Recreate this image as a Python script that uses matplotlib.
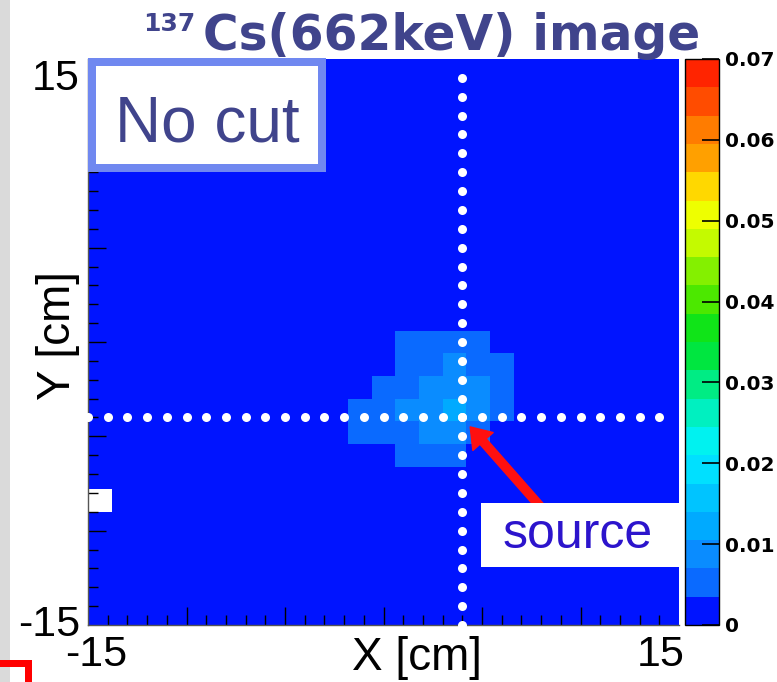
import numpy as np
import matplotlib
matplotlib.use("Agg")
import matplotlib.pyplot as plt
from matplotlib.colors import ListedColormap, BoundaryNorm
from matplotlib.patches import Rectangle, FancyArrowPatch
from matplotlib.lines import Line2D

W_PX, H_PX, DPI = 777, 682, 100

# ---- histogram definition (cm) ----
x_range = (-15.0, 15.0)
y_range = (-15.0, 15.0)
n_bins = 25

bg = 0.002            # level of the flat background
A, B, C = 0.005, 0.009, 0.012
empty_bin = (0, 5)    # (column, row) from lower-left; bin left undrawn
spot_col0, spot_row0 = 11, 7
spot_values = [       # rows listed bottom to top, columns 11..17
    [bg, bg, A,  A,  A,  bg, bg],
    [A,  A,  A,  B,  B,  A,  bg],
    [A,  A,  B,  B,  C,  B,  A ],
    [bg, A,  A,  B,  B,  B,  A ],
    [bg, bg, A,  A,  B,  A,  A ],
    [bg, bg, A,  A,  A,  A,  bg],
]

source_xy = (4.0, -4.0)

# colour scale
z_min, z_max, n_levels = 0.0, 0.07, 20
cbar_ticks = [0, 0.01, 0.02, 0.03, 0.04, 0.05, 0.06, 0.07]
cbar_labels = ['0', '0.01', '0.02', '0.03', '0.04', '0.05', '0.06', '0.07']
level_colors = ['#0014ff', '#0a6aff', '#0a8cff', '#00aaff', '#00c4ff',
                '#00e0ff', '#00f2f0', '#00f0c0', '#00ec84', '#00e640',
                '#10e418', '#4ce800', '#84f000', '#c4fa00', '#eeff00',
                '#ffd800', '#ffa000', '#ff7c00', '#ff4c00', '#ff2400']

# axis text
x_tick_values, x_tick_labels = [-15, 15], ['-15', '15']
y_tick_values, y_tick_labels = [-15, 15], ['-15', '15']
x_title, y_title = 'X [cm]', 'Y [cm]'
title_sup, title_main = '137', 'Cs(662keV) image'
box_label, source_label = 'No cut', 'source'

TITLE_COLOR = '#40448c'
LABEL_FONT = ['Liberation Sans', 'DejaVu Sans']


def fx(px):
    return px / W_PX


def fy(py):
    return 1 - py / H_PX


fig = plt.figure(figsize=(W_PX / DPI, H_PX / DPI), dpi=DPI)
fig.patch.set_facecolor('white')

# grey margin strip on the left edge
fig.patches.append(Rectangle((0, 0), fx(10), 1, transform=fig.transFigure,
                             facecolor='#dadada', edgecolor='none', zorder=0))

ax = fig.add_axes([fx(88), fy(625), fx(591), 566 / H_PX])
cax = fig.add_axes([fx(685), fy(625), fx(34), 566 / H_PX])

# build the bin-content grid
z = np.full((n_bins, n_bins), bg)
for i, row in enumerate(spot_values):
    for j, v in enumerate(row):
        z[spot_row0 + i, spot_col0 + j] = v
z[empty_bin[1], empty_bin[0]] = np.nan
zm = np.ma.masked_invalid(z)

xe = np.linspace(*x_range, n_bins + 1)
ye = np.linspace(*y_range, n_bins + 1)
cmap = ListedColormap(level_colors)
cmap.set_bad('white')
bounds = np.linspace(z_min, z_max, n_levels + 1)
norm = BoundaryNorm(bounds, cmap.N)
mesh = ax.pcolormesh(xe, ye, zm, cmap=cmap, norm=norm, shading='flat')
ax.set_xlim(*x_range)
ax.set_ylim(*y_range)
ax.set_facecolor('white')

# tick marks: major every 5 cm, minor every 1 cm, pointing inwards
ax.set_xticks(np.arange(-10, 11, 5))
ax.set_xticks(np.arange(-14, 15, 1), minor=True)
ax.set_yticks(np.arange(-10, 11, 5))
ax.set_yticks(np.arange(-14, 15, 1), minor=True)
ax.tick_params(which='both', direction='in', top=False, right=False,
               labelbottom=False, labelleft=False, color='black', width=1)
ax.tick_params(which='major', length=18 * 0.72)
ax.tick_params(which='minor', length=10 * 0.72)
for s in ['top', 'right']:
    ax.spines[s].set_visible(False)
for s in ['left', 'bottom']:
    ax.spines[s].set_color('#555555')
    ax.spines[s].set_linewidth(1.0)

# tick labels drawn at the axis ends
xl_offsets = [8, -18]
for v, lab, off in zip(x_tick_values, x_tick_labels, xl_offsets):
    ax.annotate(lab, xy=(v, 0), xycoords=('data', 'axes fraction'),
                xytext=(off * 0.72, -10 * 0.72), textcoords='offset points',
                ha='center', va='top', fontsize=31, family=LABEL_FONT,
                annotation_clip=False)
yl_offsets = [0, -20]
for v, lab, off in zip(y_tick_values, y_tick_labels, yl_offsets):
    ax.annotate(lab, xy=(0, v), xycoords=('axes fraction', 'data'),
                xytext=(-8 * 0.72, off * 0.72), textcoords='offset points',
                ha='right', va='center', fontsize=31, family=LABEL_FONT,
                annotation_clip=False)

ax.set_xlabel(x_title, fontsize=33, family=LABEL_FONT)
ax.xaxis.set_label_coords((416.5 - 88) / 591, (625 - 636) / 566)
ax.xaxis.label.set_va('top')
ax.set_ylabel(y_title, fontsize=33, family=LABEL_FONT)
ax.yaxis.set_label_coords((57.5 - 88) / 591, (625 - 335.5) / 566)
ax.yaxis.label.set_va('center')

# dotted cross-hair through the source position
sx, sy = source_xy
dots = np.arange(x_range[0], x_range[1], 1.0)
ax.plot(dots, np.full_like(dots, sy), 'o', color='white', ms=6.5,
        mec='none', clip_on=False, zorder=4)
ax.plot(np.full_like(dots, sx), dots, 'o', color='white', ms=6.5,
        mec='none', clip_on=False, zorder=4)

# arrow pointing at the source
arrow = FancyArrowPatch((8.45, -9.3), (sx + 0.4, sy - 0.5),
                        arrowstyle='simple,head_width=1.95,head_length=1.4,tail_width=0.6',
                        mutation_scale=10, color='#ff1010', shrinkA=0, shrinkB=0,
                        zorder=6)
ax.add_patch(arrow)

# "source" label box
fig.patches.append(Rectangle((fx(481), fy(567)), fx(199), 64 / H_PX,
                             transform=fig.transFigure, facecolor='white',
                             edgecolor='none', zorder=5))
fig.text(fx(577.5), fy(548), source_label, ha='center', va='baseline',
         fontsize=36, color='#2c14cc', family=LABEL_FONT, zorder=7)

# "No cut" box in the upper-left corner
fig.patches.append(Rectangle((fx(92), fy(168)), fx(230), 106 / H_PX,
                             transform=fig.transFigure, facecolor='white',
                             edgecolor='#7088f0', linewidth=8 * 0.72, zorder=5))
fig.text(fx(207), fy(141.5), box_label, ha='center', va='baseline',
         fontsize=46, color=TITLE_COLOR, family=LABEL_FONT, zorder=7)

# title
fig.text(fx(143), fy(31), title_sup, ha='left', va='baseline',
         fontsize=18, fontweight='bold', color=TITLE_COLOR)
fig.text(fx(203), fy(50), title_main, ha='left', va='baseline',
         fontsize=35, fontweight='bold', color=TITLE_COLOR)

# colour bar
cb = fig.colorbar(mesh, cax=cax, ticks=cbar_ticks)
cb.outline.set_edgecolor('black')
cb.outline.set_linewidth(1.0)
cax.yaxis.set_ticks_position('right')
cax.tick_params(direction='in', length=12, width=1.2, color='black', pad=4)
cax.set_yticklabels(cbar_labels, fontsize=14.5, fontweight='bold')
cax.yaxis.set_minor_locator(matplotlib.ticker.NullLocator())

# red corner mark at the lower-left edge
fig.lines.append(Line2D([0, fx(27.8), fx(27.8)], [fy(663.3), fy(663.3), fy(690)],
                        transform=fig.transFigure, color='red',
                        linewidth=7 * 0.72, solid_joinstyle='miter', zorder=8))

fig.savefig('out.png', dpi=DPI)
